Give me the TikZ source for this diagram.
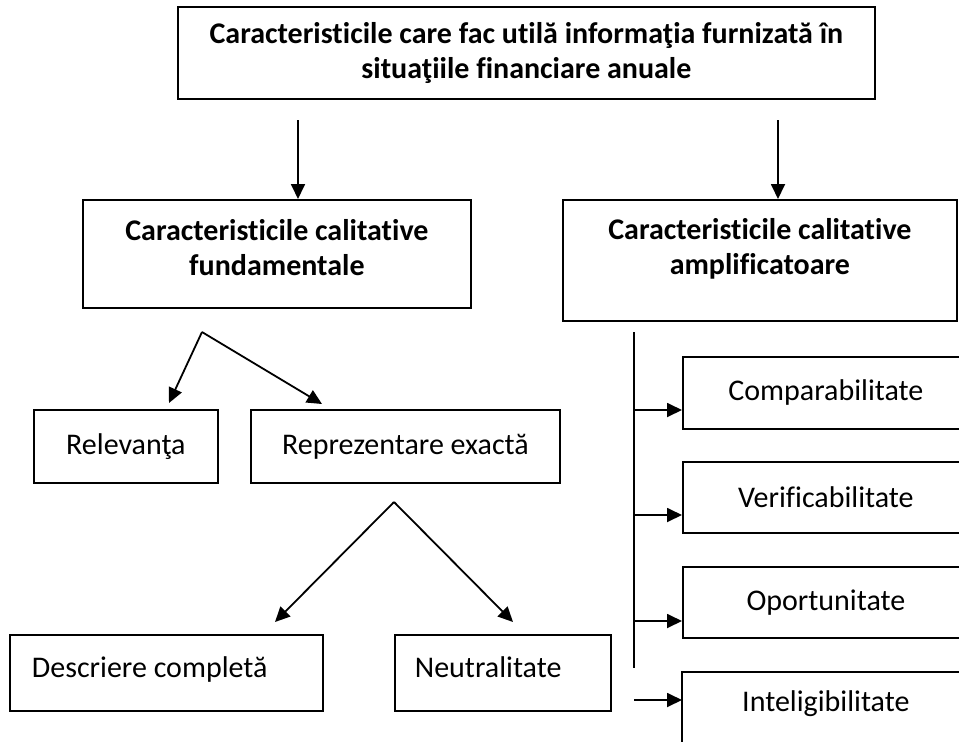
\documentclass[tikz,border=0pt]{standalone}
\usepackage{fontspec}
\setmainfont{Carlito}[Ligatures={NoCommon, NoContextual}]
\usetikzlibrary{arrows.meta}

\begin{document}
\begin{tikzpicture}[x=1pt, y=-1pt, line width=1.8pt,
    box/.style={draw, inner sep=0pt, anchor=north west, align=center, font=\fontsize{30}{35}\selectfont},
    head/.style={box, font=\fontsize{30}{35}\selectfont\bfseries},
    leftbox/.style={box, align=flush left, text height=21pt, text depth=12pt},
    arr/.style={-{Triangle[length=15pt, width=14pt]}}]
    \useasboundingbox (0, 0) rectangle (959, 742);
    \clip (0, 0) rectangle (959, 742);
    % boxes
    \node[head, minimum width=697pt, minimum height=92pt] (top) at (177, 6) {Caracteristicile care fac utilă informaţia furnizată în\\situaţiile financiare anuale};
    \node[head, minimum width=388pt, minimum height=108pt, text depth=12pt] (fund) at (82, 199) {Caracteristicile calitative\\fundamentale};
    \node[head, minimum width=394pt, minimum height=121pt, text depth=28pt] (ampl) at (562, 199) {Caracteristicile calitative\\amplificatoare};
    \node[box, minimum width=184pt, minimum height=73pt] (rel) at (33, 409) {Relevanţa};
    \node[box, minimum width=309pt, minimum height=73pt] (repr) at (250, 409) {Reprezentare exactă};
    \node[leftbox, minimum width=313pt, minimum height=76pt, text width=269pt, inner xsep=22pt] (descr) at (9, 634) {Descriere completă};
    \node[leftbox, minimum width=216pt, minimum height=76pt, text width=176pt, inner xsep=20pt] (neutr) at (394, 634) {Neutralitate};
    \node[box, minimum width=286pt, minimum height=72pt] (comp) at (682, 356) {Comparabilitate};
    \node[box, minimum width=286pt, minimum height=71pt] (verif) at (682, 461) {Verificabilitate};
    \node[box, minimum width=286pt, minimum height=71pt] (oport) at (682, 566) {Oportunitate};
    \node[box, draw=none, minimum width=286pt, minimum height=62pt] (intel) at (682, 672) {Inteligibilitate};
    \draw ([yshift=-60pt]intel.south west) -- (intel.north west) -- (intel.north east);
    % arrows from the top box
    \coordinate (s1) at (298, 120);
    \coordinate (s2) at (778, 120);
    \draw[arr] (s1) -- (s1 |- fund.north);
    \draw[arr] (s2) -- (s2 |- ampl.north);
    % first split
    \coordinate (p1) at (202, 332);
    \coordinate (t1) at (169, 403);
    \coordinate (t2) at (322, 404);
    \draw[arr] (p1) -- (t1);
    \draw[arr] (p1) -- (t2);
    % second split
    \coordinate (p2) at (394, 502);
    \coordinate (t3) at (275, 622);
    \coordinate (t4) at (513, 622);
    \draw[arr] (p2) -- (t3);
    \draw[arr] (p2) -- (t4);
    % right column
    \coordinate (v0) at (634, 332);
    \coordinate (v1) at (634, 668);
    \draw (v0) -- (v1);
    \draw[arr] (v0 |- 0, 410) -- (comp.west |- 0, 410);
    \draw[arr] (v0 |- 0, 515) -- (verif.west |- 0, 515);
    \draw[arr] (v0 |- 0, 621) -- (oport.west |- 0, 621);
    \draw[arr] (v0 |- 0, 700) -- (intel.west |- 0, 700);
\end{tikzpicture}
\end{document}
